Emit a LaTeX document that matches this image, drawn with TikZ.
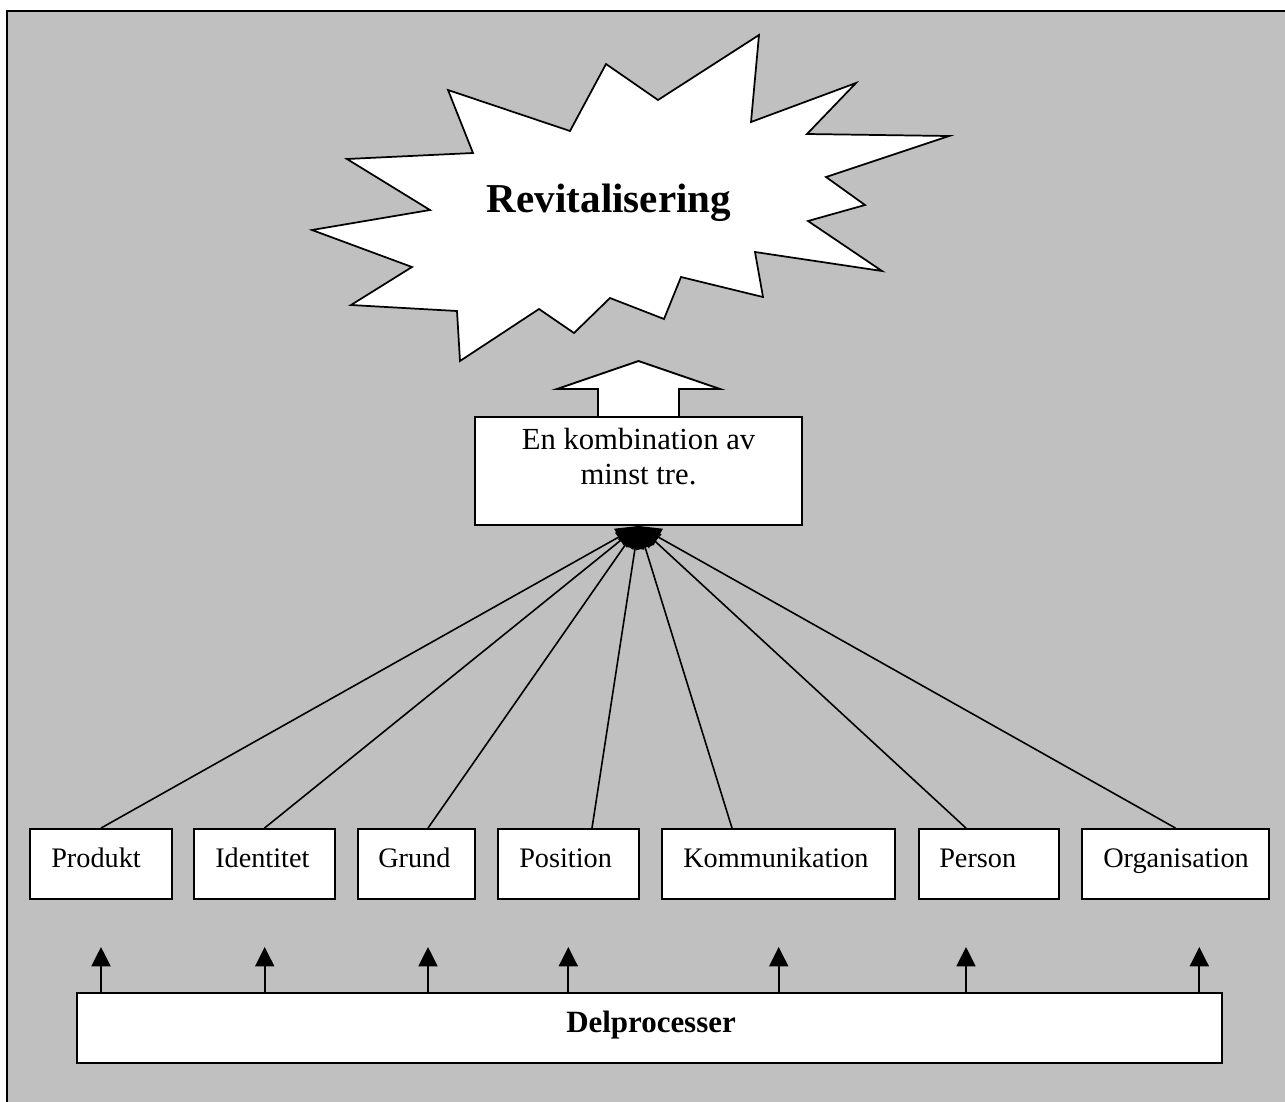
\documentclass[tikz,border=0pt]{standalone}
\usepackage{fontspec}
\setmainfont{Liberation Serif}
\usetikzlibrary{arrows.meta,calc}
\definecolor{bggray}{RGB}{192,192,192}
\begin{document}
\begin{tikzpicture}[x=0.75pt,y=-0.75pt,
  box/.style={draw=black, fill=white, line width=1.4pt, rectangle, inner sep=0pt},
  rowbox/.style={box, minimum height=70*0.75pt},
  lbl/.style={font=\fontsize{21.2pt}{25pt}\selectfont, inner sep=0pt, anchor=base west},
  fan/.style={line width=1.2pt, -{Triangle[length=17pt,width=14pt]}},
  uparrow/.style={line width=1.3pt, -{Triangle[length=14.5pt,width=14.3pt]}}]

\useasboundingbox (0,0) rectangle (1285,1101);
\fill[bggray] (7,11) rectangle (1290,1106);
\draw[line width=1.6pt] (7,1106) -- (7,11) -- (1290,11);

% star
\draw[fill=white, line width=1.3pt] (759,35) -- (751,122) -- (856,83) -- (807,134) -- (949,136) -- (826,177) -- (865,205) -- (808,221) -- (882,271) -- (755,252) -- (763,297) -- (681,277) -- (664,319) -- (610,298) -- (574,333) -- (539,309) -- (460,361) -- (457,311) -- (351,305) -- (412,267) -- (312,230) -- (430,210) -- (347,159) -- (473,153) -- (448,90) -- (570,131) -- (606,64) -- (658,100) -- cycle;
\node[font=\fontsize{30.8pt}{36pt}\selectfont\bfseries, anchor=base, inner sep=0pt] (revit) at (609,212) {Revitalisering};

% block arrow up
\draw[fill=white, line width=1.4pt] (598,417) -- (598,389) -- (557,389) -- (638.5,361) -- (720,389) -- (679,389) -- (679,417);

% combination box
\node[box, minimum width=327*0.75pt, minimum height=108*0.75pt] (combo) at (638.5,471) {};
\node[font=\fontsize{23pt}{26.25pt}\selectfont, align=center, anchor=base, inner sep=0pt] (combotext) at (638.5,484) {En kombination av\\minst tre.};

% row of boxes
\node[rowbox, minimum width=142*0.75pt] (produkt) at (101,864) {};
\node[rowbox, minimum width=141*0.75pt] (identitet) at (264.5,864) {};
\node[rowbox, minimum width=117*0.75pt] (grund) at (416.5,864) {};
\node[rowbox, minimum width=141*0.75pt] (position) at (568.5,864) {};
\node[rowbox, minimum width=233*0.75pt] (kommunikation) at (778.5,864) {};
\node[rowbox, minimum width=140*0.75pt] (person) at (989,864) {};
\node[rowbox, minimum width=187*0.75pt] (organisation) at (1175.5,864) {};

\node[lbl] (produkt-l) at (51,867) {Produkt};
\node[lbl] (identitet-l) at (215,867) {Identitet};
\node[lbl] (grund-l) at (378,867) {Grund};
\node[lbl] (position-l) at (519,867) {Position};
\node[lbl] (kommunikation-l) at (683,867) {Kommunikation};
\node[lbl] (person-l) at (939,867) {Person};
\node[lbl] (organisation-l) at (1103,867) {Organisation};

% fan of connectors
\draw[fan] (produkt.north) -- (combo.south);
\draw[fan] (identitet.north) -- (combo.south);
\draw[fan] ($(grund.north)+(11.5,0)$) -- (combo.south);
\draw[fan] ($(position.north)+(23.5,0)$) -- (combo.south);
\draw[fan] ($(kommunikation.north)+(-46.5,0)$) -- (combo.south);
\draw[fan] ($(person.north)+(-23,0)$) -- (combo.south);
\draw[fan] (organisation.north) -- (combo.south);

% Delprocesser
\node[box, minimum width=1145*0.75pt, minimum height=70*0.75pt] (delproc) at (649.5,1028) {};
\node[font=\fontsize{23.2pt}{28pt}\selectfont\bfseries, anchor=base, inner sep=0pt] (delproc-l) at (651,1032) {Delprocesser};

\foreach \i/\xx in {1/101, 2/264.7, 3/428, 4/568.3, 5/778.7, 6/966, 7/1199.3} {
  \coordinate (tip\i) at (\xx,947);
  \draw[uparrow] (delproc.north -| tip\i) -- (tip\i);
}
\end{tikzpicture}
\end{document}
